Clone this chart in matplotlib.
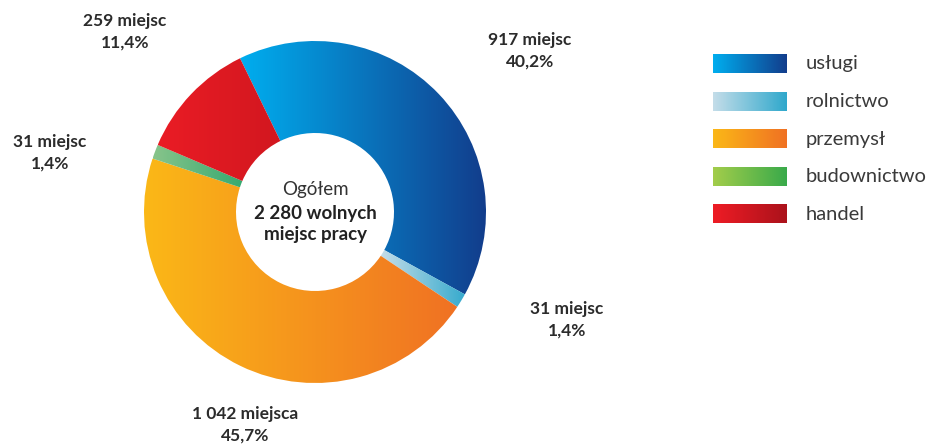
import matplotlib.pyplot as plt
import numpy as np
from matplotlib.colors import LinearSegmentedColormap

plt.rcParams["font.family"] = ["Lato", "DejaVu Sans"]

# ---- Data ----
sectors = ["usługi", "rolnictwo", "przemysł", "budownictwo", "handel"]
counts = [917, 31, 1042, 31, 259]
count_labels = ["917 miejsc", "31 miejsc", "1 042 miejsca", "31 miejsc", "259 miejsc"]
share_labels = ["40,2%", "1,4%", "45,7%", "1,4%", "11,4%"]
total_label = "2 280 wolnych\nmiejsc pracy"

# gradient (left colour, right colour) per sector: legend and donut
legend_grads = [
    ("#00aeef", "#123d8c"),
    ("#c4dde9", "#2fa8cc"),
    ("#fbb817", "#f07123"),
    ("#a3cd4a", "#39aa4b"),
    ("#ee1c25", "#ab121b"),
]
donut_grads = [
    ("#00aeef", "#123d8c"),
    ("#c4dde9", "#35aacd"),
    ("#fbb817", "#f07123"),
    ("#88c48b", "#36aa70"),
    ("#ea1c25", "#d2171f"),
]
# text anchor positions (pixels, y from bottom)
label_pos = [(530, 395), (567, 126), (245, 21), (50, 293), (125, 414)]

W, H = 932, 446
fig = plt.figure(figsize=(W / 100, H / 100), dpi=100)
ax = fig.add_axes([0, 0, 1, 1])

cx, cy, r_out, r_in = 315, 234, 171, 79

wedges, _ = ax.pie(
    counts, center=(cx, cy), radius=r_out, startangle=116, counterclock=False,
    wedgeprops=dict(width=r_out - r_in, linewidth=0),
)

ramp = np.linspace(0, 1, 256).reshape(1, -1)
for w, (c0, c1) in zip(wedges, donut_grads):
    w.set_facecolor("none")
    cmap = LinearSegmentedColormap.from_list("g", [c0, c1])
    ext = w.get_path().get_extents(w.get_patch_transform())
    im = ax.imshow(ramp, cmap=cmap, extent=[ext.x0, ext.x1, ext.y0, ext.y1],
                   aspect="auto", interpolation="bilinear", zorder=2)
    im.set_clip_path(w)

# centre text
ax.text(cx, cy + 23, "Ogółem", ha="center", va="center", fontsize=13.5,
        color="#333333")
ax.text(cx, cy - 12, total_label, ha="center", va="center", fontsize=13.5,
        fontweight="bold", color="#222222", linespacing=1.3)

# slice labels
for (x, y), c, s in zip(label_pos, count_labels, share_labels):
    ax.text(x, y, f"{c}\n{s}", ha="center", va="center", fontsize=12.5,
            fontweight="bold", color="#2b2b2b", linespacing=1.4)

# legend
lx, lw, lh = 713, 74, 19
ly_top = 382
for i, (name, (c0, c1)) in enumerate(zip(sectors, legend_grads)):
    y0 = ly_top - i * 37.5
    cmap = LinearSegmentedColormap.from_list("g", [c0, c1])
    ax.imshow(ramp, cmap=cmap, extent=[lx, lx + lw, y0 - lh / 2, y0 + lh / 2],
              aspect="auto", interpolation="bilinear", zorder=2)
    ax.text(lx + lw + 19, y0, name, ha="left", va="center", fontsize=14.5,
            color="#3a3a3a")

ax.set_xlim(0, W)
ax.set_ylim(0, H)
ax.set_aspect("auto")
ax.set_axis_off()

fig.savefig("out.png", dpi=100, facecolor="white")
